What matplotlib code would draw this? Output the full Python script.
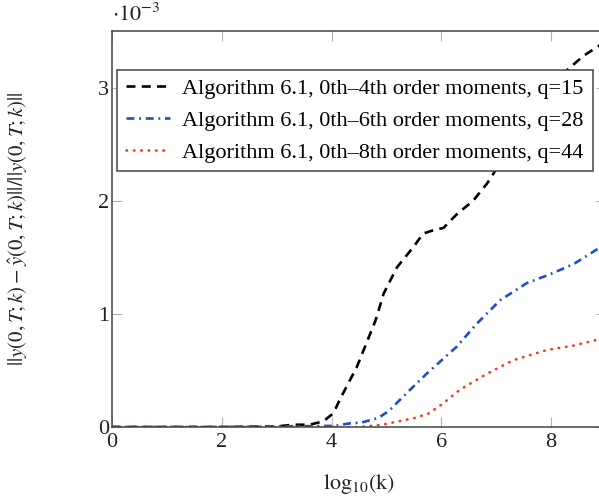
import numpy as np
import matplotlib
matplotlib.use('Agg')
import matplotlib.pyplot as plt
from matplotlib.ticker import FuncFormatter

plt.rcParams['font.family'] = ['Liberation Serif', 'DejaVu Serif']
plt.rcParams['mathtext.fontset'] = 'stix'

# relative error vs log10(k), values in units of 1e-3
x_q15 = [0, 1, 2, 3, 3.3, 3.6, 3.85, 4.03, 4.18, 4.46, 4.8, 4.95, 5.19, 5.49, 5.67, 5.86, 6.04,
         6.28, 6.58, 6.83, 6.95, 7.5, 8.16, 8.59, 9.0]
y_q15 = [0, 0, 0, 0.005, 0.02, 0.02, 0.05, 0.12, 0.27, 0.53, 0.94, 1.18, 1.41, 1.59, 1.71, 1.74, 1.76,
         1.88, 2.0, 2.15, 2.24, 2.7, 3.1, 3.28, 3.41]

x_q28 = [0, 2, 4.06, 4.3, 4.55, 4.85, 5.04, 5.37, 5.73, 6.28, 6.64, 7.07, 7.55, 7.98, 8.41, 9.0]
y_q28 = [0, 0, 0.01, 0.03, 0.04, 0.08, 0.14, 0.30, 0.47, 0.71, 0.91, 1.12, 1.27, 1.35, 1.44, 1.62]

x_q44 = [0, 2, 4.5, 4.92, 5.22, 5.52, 5.77, 6.01, 6.34, 6.83, 7.31, 7.92, 8.41, 9.0]
y_q44 = [0, 0, 0, 0.02, 0.05, 0.08, 0.12, 0.20, 0.33, 0.47, 0.59, 0.68, 0.72, 0.79]

labels = ['Algorithm 6.1, 0th\u20134th order moments, q=15',
          'Algorithm 6.1, 0th\u20136th order moments, q=28',
          'Algorithm 6.1, 0th\u20138th order moments, q=44']

fs = 16
txt = '#222222'

fig = plt.figure(figsize=(5.99, 5.0), dpi=100)
ax = fig.add_axes([112/599, 73/500, 494/599, 396/500])

lw = 1.9
ax.plot(x_q15, np.array(y_q15)*1e-3, color='black', lw=lw, dashes=(3.4, 2.4), label=labels[0])
ax.plot(x_q28, np.array(y_q28)*1e-3, color='#1f4fc4', lw=lw, dashes=(3.0, 1.8, 0.7, 1.8), label=labels[1])
ax.plot(x_q44, np.array(y_q44)*1e-3, color='#f23a22', lw=lw, dashes=(0.2, 2.6),
        dash_capstyle='round', label=labels[2])

ax.set_xlim(0, 9)
ax.set_ylim(0, 3.5e-3)
ax.set_xticks([0, 2, 4, 6, 8])
ax.set_yticks([0, 1e-3, 2e-3, 3e-3])
ax.yaxis.set_major_formatter(FuncFormatter(lambda v, p: '%d' % round(v*1e3)))

ax.tick_params(direction='in', length=7, width=0.8, color='#b0b0b0', top=True, right=True,
               labelsize=fs, labelcolor=txt)
ax.tick_params(axis='x', pad=4)
ax.tick_params(axis='y', pad=2)
for s in ax.spines.values():
    s.set_color('#444444')
    s.set_linewidth(1.1)

ax.text(0, 1.012, r'$\cdot 10^{-3}$', transform=ax.transAxes, ha='left', va='bottom',
        fontsize=fs, color=txt)

ax.set_xlabel(r'$\mathrm{log}_{10}(\mathrm{k})$', fontsize=fs, color=txt, va='center')
ax.xaxis.set_label_coords(0.5, -0.144)
ax.set_ylabel(r'$||y(0,T;k)-\hat{y}(0,T;k)||/||y(0,T;k)||$', fontsize=15, color=txt, va='center')
ax.yaxis.set_label_coords(-0.19, 0.5)

leg = ax.legend(loc='upper left', bbox_to_anchor=(0.01, 0.902), borderaxespad=0, fontsize=fs,
                fancybox=False, framealpha=1, edgecolor='#444444', handlelength=2.0,
                handletextpad=0.55, labelspacing=0.5, borderpad=0.4)
leg.get_frame().set_linewidth(1.1)

fig.savefig('out.png', dpi=100)
